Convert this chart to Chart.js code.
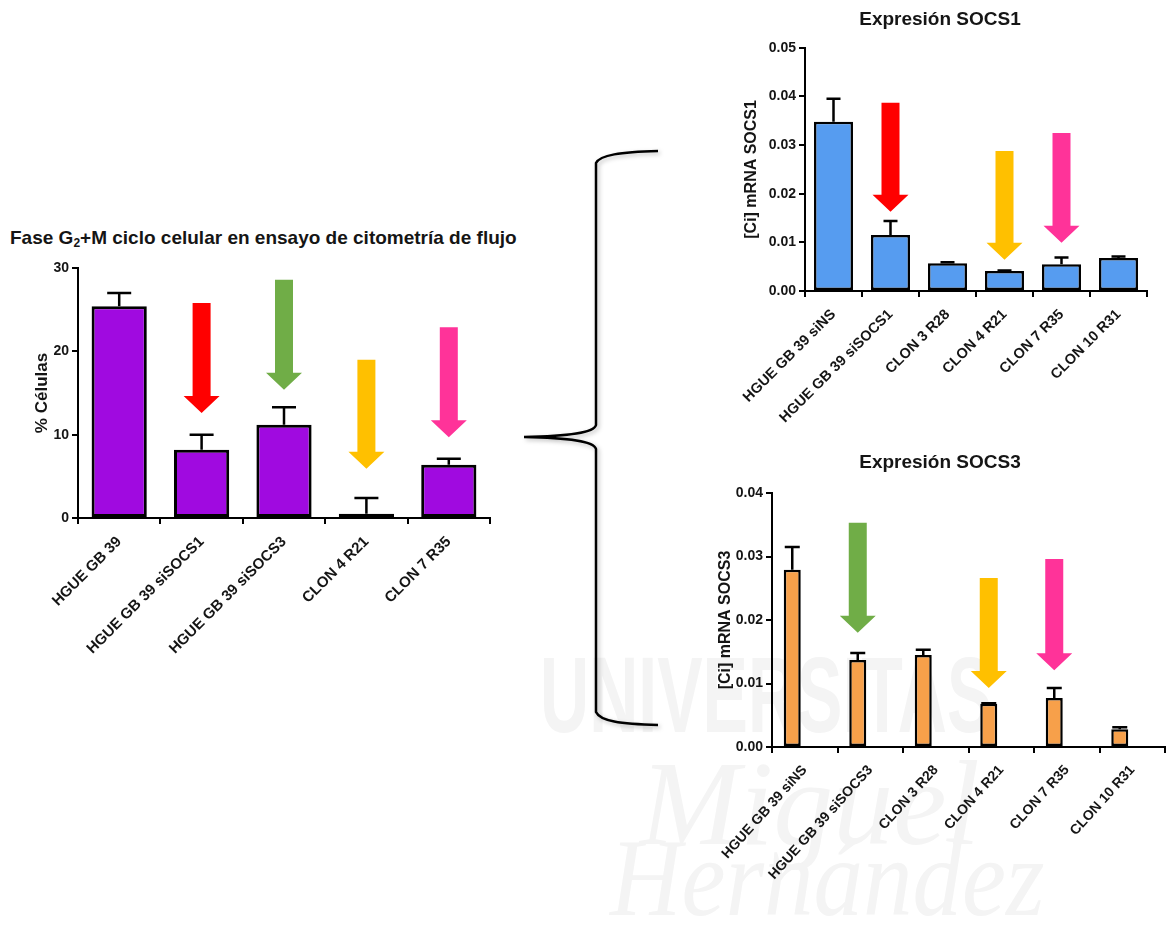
<!DOCTYPE html>
<html>
<head>
<meta charset="utf-8">
<script src="https://cdn.jsdelivr.net/npm/chart.js@4/dist/chart.umd.min.js"></script>
<style>
  body { margin: 0; width: 1166px; height: 940px; background: #fff; position: relative; overflow: hidden;
         font-family: "Liberation Sans", Arial, sans-serif; }
  .caja { position: absolute; }
  .marca { position: absolute; white-space: nowrap; transform-origin: left top; color: #f4f4f4; }
  #tituloCiclo { position: absolute; left: 10px; top: 227px; font-weight: bold; font-size: 19px; color: #151515; white-space: nowrap; }
  #tituloCiclo sub { font-size: 12px; line-height: 0; vertical-align: -3px; }
  #llave { position: absolute; left: 0; top: 0; filter: drop-shadow(2px 2px 2px rgba(0,0,0,0.25)); }
</style>
</head>
<body>

<div class="marca" style="left:540px;top:632px;font:bold 108px 'Liberation Sans';transform:scaleX(0.63)">UNIVERSITAS</div>
<div class="marca" style="left:640px;top:735px;font:italic 120px 'Liberation Serif'">Miguel</div>
<div class="marca" style="left:610px;top:815px;font:italic 110px 'Liberation Serif';transform:scaleX(0.9)">Hernández</div>

<svg id="llave" width="1166" height="940">
  <path d="M658,151 C620,152 600,155 596,163 L596,425 C594,433 570,436 524,437 C570,438 594,441 596,449 L596,712 C600,721 620,724 658,725"
        fill="none" stroke="#000" stroke-width="2.5"/>
</svg>

<div id="tituloCiclo">Fase G<sub>2</sub>+M ciclo celular en ensayo de citometría de flujo</div>
<div class="caja" style="left:0;top:250px;width:520px;height:410px"><canvas id="graficoCiclo"></canvas></div>
<div class="caja" style="left:700px;top:0;width:466px;height:430px"><canvas id="graficoSocs1"></canvas></div>
<div class="caja" style="left:700px;top:440px;width:466px;height:445px"><canvas id="graficoSocs3"></canvas></div>

<script>
// Fase G2+M: % de células (media y error)
const etiquetasCiclo = ['HGUE GB 39', 'HGUE GB 39 siSOCS1', 'HGUE GB 39 siSOCS3', 'CLON 4 R21', 'CLON 7 R35'];
const mediasCiclo = [25.4, 8.2, 11.2, 0.5, 6.4];
const errorCiclo = [1.6, 1.8, 2.1, 1.9, 0.7];
const ticksCiclo = [0, 10, 20, 30];

// Expresión SOCS1: [Ci] mRNA
const etiquetasSocs1 = ['HGUE GB 39 siNS', 'HGUE GB 39 siSOCS1', 'CLON 3 R28', 'CLON 4 R21', 'CLON 7 R35', 'CLON 10 R31'];
const mediasSocs1 = [0.0348, 0.0115, 0.0057, 0.0041, 0.0055, 0.0068];
const errorSocs1 = [0.0047, 0.0029, 0.0002, 0.0001, 0.0014, 0.0003];
const ticksSocs1 = [0, 0.01, 0.02, 0.03, 0.04, 0.05];

// Expresión SOCS3: [Ci] mRNA (la segunda columna de cada grupo va vacía)
const etiquetasSocs3 = ['HGUE GB 39 siNS', 'HGUE GB 39 siSOCS3', 'CLON 3 R28', 'CLON 4 R21', 'CLON 7 R35', 'CLON 10 R31'];
const mediasSocs3 = [0.0279, 0.0137, 0.0145, 0.0068, 0.0077, 0.0028];
const errorSocs3 = [0.0036, 0.0011, 0.0008, 0.0001, 0.0016, 0.0003];
const vacioSocs3 = [null, null, null, null, null, null];
const ticksSocs3 = [0, 0.01, 0.02, 0.03, 0.04];

// flechas: barra señalada, valor donde empieza y valor de la punta
const ROJO = '#ff0000', VERDE = '#70ad47', AMARILLO = '#ffc000', ROSA = '#ff3399';
const flechasCiclo = [
  { barra: 1, desde: 25.8, hasta: 12.6, color: ROJO },
  { barra: 2, desde: 28.6, hasta: 15.4, color: VERDE },
  { barra: 3, desde: 19.0, hasta: 5.9, color: AMARILLO },
  { barra: 4, desde: 22.9, hasta: 9.7, color: ROSA }
];
const flechasSocs1 = [
  { barra: 1, desde: 0.0387, hasta: 0.0163, color: ROJO },
  { barra: 3, desde: 0.0288, hasta: 0.0064, color: AMARILLO },
  { barra: 4, desde: 0.0325, hasta: 0.0099, color: ROSA }
];
const flechasSocs3 = [
  { barra: 1, desde: 0.0353, hasta: 0.0180, color: VERDE },
  { barra: 3, desde: 0.0266, hasta: 0.0093, color: AMARILLO },
  { barra: 4, desde: 0.0296, hasta: 0.0121, color: ROSA }
];

Chart.defaults.font.family = '"Liberation Sans", Arial, Helvetica, sans-serif';
Chart.defaults.color = '#151515';
Chart.defaults.animation = false;
Chart.defaults.plugins.legend.display = false;
Chart.defaults.plugins.tooltip.enabled = false;

function barrasError(errores, tapa) {
  return {
    id: 'barrasError',
    afterDatasetsDraw(chart) {
      const ctx = chart.ctx, y = chart.scales.y;
      const meta = chart.getDatasetMeta(0);
      const datos = chart.data.datasets[0].data;
      ctx.save();
      ctx.strokeStyle = '#000';
      ctx.lineWidth = 2.5;
      meta.data.forEach((barra, i) => {
        const arriba = y.getPixelForValue(datos[i] + errores[i]);
        ctx.beginPath();
        ctx.moveTo(barra.x, barra.y);
        ctx.lineTo(barra.x, arriba);
        ctx.moveTo(barra.x - tapa / 2, arriba);
        ctx.lineTo(barra.x + tapa / 2, arriba);
        ctx.stroke();
      });
      ctx.restore();
    }
  };
}

function flechas(lista) {
  return {
    id: 'flechas',
    afterDraw(chart) {
      const ctx = chart.ctx, y = chart.scales.y;
      const meta = chart.getDatasetMeta(0);
      const c = 9, p = 18, l = 17;   // medio cuerpo, media punta, largo de la punta
      ctx.save();
      lista.forEach(f => {
        const x = meta.data[f.barra].x;
        const y0 = y.getPixelForValue(f.desde);
        const y1 = y.getPixelForValue(f.hasta);
        ctx.beginPath();
        ctx.moveTo(x - c, y0);
        ctx.lineTo(x + c, y0);
        ctx.lineTo(x + c, y1 - l);
        ctx.lineTo(x + p, y1 - l);
        ctx.lineTo(x, y1);
        ctx.lineTo(x - p, y1 - l);
        ctx.lineTo(x - c, y1 - l);
        ctx.closePath();
        ctx.fillStyle = f.color;
        ctx.fill();
      });
      ctx.restore();
    }
  };
}

function ejeY(max, ticks, decimales, titulo, tamTitulo, padTitulo, ancho) {
  return {
    min: 0, max: max,
    afterBuildTicks: s => { s.ticks = ticks.map(v => ({ value: v })); },
    afterFit: s => { s.width = ancho; },
    border: { color: '#000', width: 2 },
    grid: { drawOnChartArea: false, color: '#000', lineWidth: 2, tickLength: 6 },
    ticks: { font: { size: 14, weight: 'bold' }, padding: 3, callback: v => v.toFixed(decimales) },
    title: { display: true, text: titulo, font: { size: tamTitulo, weight: 'bold' }, padding: { top: padTitulo, bottom: 0 } }
  };
}

function ejeX(rotacion, tam, alto) {
  return {
    afterFit: s => { s.height = alto; },
    border: { color: '#000', width: 2 },
    grid: { drawOnChartArea: false, color: '#000', lineWidth: 2, tickLength: 6 },
    ticks: { font: { size: tam, weight: 'bold' }, minRotation: rotacion, maxRotation: rotacion, autoSkip: false, padding: 9 }
  };
}

new Chart(document.getElementById('graficoCiclo'), {
  type: 'bar',
  data: {
    labels: etiquetasCiclo,
    datasets: [{
      data: mediasCiclo,
      backgroundColor: '#a00ae0',
      borderColor: '#000',
      borderWidth: 3,
      borderSkipped: false,
      categoryPercentage: 1,
      barPercentage: 0.67
    }]
  },
  options: {
    responsive: true,
    maintainAspectRatio: false,
    layout: { padding: { top: 18, left: 0, right: 30, bottom: 0 } },
    scales: {
      x: ejeX(45, 15, 142),
      y: ejeY(30, ticksCiclo, 0, '% Células', 17, 32, 78)
    }
  },
  plugins: [barrasError(errorCiclo, 24), flechas(flechasCiclo)]
});

new Chart(document.getElementById('graficoSocs1'), {
  type: 'bar',
  data: {
    labels: etiquetasSocs1,
    datasets: [{
      data: mediasSocs1,
      backgroundColor: '#569cf0',
      borderColor: '#000',
      borderWidth: 2.5,
      borderSkipped: false,
      categoryPercentage: 1,
      barPercentage: 0.684
    }]
  },
  options: {
    responsive: true,
    maintainAspectRatio: false,
    layout: { padding: { top: 0, left: 33, right: 19, bottom: 0 } },
    plugins: {
      title: { display: true, text: 'Expresión SOCS1', font: { size: 19, weight: 'bold' }, padding: { top: 8, bottom: 17 } }
    },
    scales: {
      x: ejeX(45, 14.5, 139),
      y: ejeY(0.05, ticksSocs1, 2, '[Ci] mRNA SOCS1', 16, 9, 72)
    }
  },
  plugins: [barrasError(errorSocs1, 14), flechas(flechasSocs1)]
});

new Chart(document.getElementById('graficoSocs3'), {
  type: 'bar',
  data: {
    labels: etiquetasSocs3,
    datasets: [{
      data: mediasSocs3,
      backgroundColor: '#f7a04a',
      borderColor: '#000',
      borderWidth: 2.5,
      borderSkipped: false,
      categoryPercentage: 0.763,
      barPercentage: 0.68
    }, {
      data: vacioSocs3,
      categoryPercentage: 0.763,
      barPercentage: 0.68
    }]
  },
  options: {
    responsive: true,
    maintainAspectRatio: false,
    layout: { padding: { top: 0, left: 15, right: 1, bottom: 0 } },
    plugins: {
      title: { display: true, text: 'Expresión SOCS3', font: { size: 19, weight: 'bold' }, padding: { top: 11.6, bottom: 18.6 } }
    },
    scales: {
      x: ejeX(48, 14, 138),
      y: ejeY(0.04, ticksSocs3, 2, '[Ci] mRNA SOCS3', 16, 0.5, 57)
    }
  },
  plugins: [barrasError(errorSocs3, 15), flechas(flechasSocs3)]
});
</script>
</body>
</html>
